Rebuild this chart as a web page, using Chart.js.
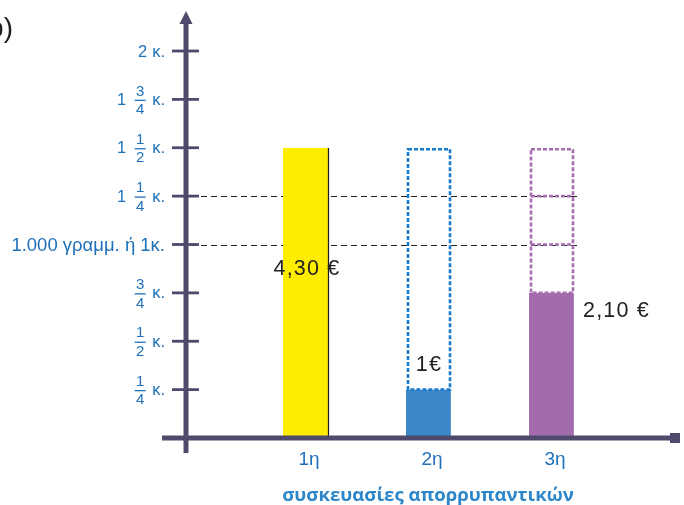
<!DOCTYPE html>
<html>
<head>
<meta charset="utf-8">
<script src="https://cdn.jsdelivr.net/npm/chart.js@4/dist/chart.umd.min.js"></script>
<style>
  html, body { margin: 0; padding: 0; background: #ffffff; }
  #wrap { width: 684px; height: 505px; }
</style>
</head>
<body>
<div id="wrap"><canvas id="c" width="684" height="505"></canvas></div>
<script>
// Detergent packages: how much each one holds and what it costs
const categories = ['1η', '2η', '3η'];
const quantityKg = [1.5, 0.25, 0.75];
const packSizeKg = [1.5, 1.5, 1.5];
const priceLabels = ['4,30 €', '1€', '2,10 €'];
const outlineDividers = [[], [], [1, 1.25]];

// Vertical axis: tick values and their written labels
const tickValues = [0.25, 0.5, 0.75, 1, 1.25, 1.5, 1.75, 2];
const tickLabels = ['1/4 κ.', '1/2 κ.', '3/4 κ.', '1.000 γραμμ. ή 1κ.', '1 1/4 κ.', '1 1/2 κ.', '1 3/4 κ.', '2 κ.'];
const referenceLines = [1, 1.25];

const axisTitle = 'συσκευασίες απορρυπαντικών';
const partLetter = 'b)';

const barColors = ['#ffed00', '#3b87c8', '#a36aac'];
const barEdgeColors = ['#1e1e1e', 'rgba(0,0,0,0)', 'rgba(0,0,0,0)'];
const outlineColors = ['#1e1e1e', '#1a7acb', '#a66db1'];
const AXIS = '#4e4a6c';
const LABEL_BLUE = '#1f70b8';
const TITLE_BLUE = '#2c86c9';
const SANS = '"Liberation Sans", Arial, sans-serif';

const AXIS_X = 186;

const decorPlugin = {
  id: 'decor',
  beforeDatasetsDraw(chart) {
    const ctx = chart.ctx;
    const y = chart.scales.y;
    ctx.save();
    ctx.strokeStyle = '#222222';
    ctx.lineWidth = 1.2;
    ctx.setLineDash([6, 4]);
    referenceLines.forEach(v => {
      const py = Math.round(y.getPixelForValue(v)) + 0.5;
      ctx.beginPath();
      ctx.moveTo(AXIS_X + 5, py);
      ctx.lineTo(580, py);
      ctx.stroke();
    });
    ctx.restore();
  },
  afterDatasetsDraw(chart) {
    const ctx = chart.ctx;
    const y = chart.scales.y;
    const meta = chart.getDatasetMeta(0);
    ctx.save();
    // dashed outline for the part of a package still missing up to the full size
    meta.data.forEach((bar, i) => {
      if (packSizeKg[i] <= quantityKg[i]) return;
      const left = bar.x - bar.width / 2 + 2;
      const right = bar.x + bar.width / 2 - 2;
      const top = y.getPixelForValue(packSizeKg[i]) + 1.5;
      const bottom = y.getPixelForValue(quantityKg[i]);
      ctx.strokeStyle = outlineColors[i];
      ctx.lineWidth = 2.6;
      ctx.setLineDash([4, 2]);
      ctx.strokeRect(left, top, right - left, bottom - top);
      outlineDividers[i].forEach(v => {
        const py = y.getPixelForValue(v);
        ctx.beginPath();
        ctx.moveTo(left, py);
        ctx.lineTo(right, py);
        ctx.stroke();
      });
    });
    ctx.setLineDash([]);

    // price labels
    ctx.fillStyle = '#222222';
    ctx.font = '21.5px ' + SANS;
    ctx.textBaseline = 'middle';
    if ('letterSpacing' in ctx) ctx.letterSpacing = '1.2px';
    meta.data.forEach((bar, i) => {
      const topPx = y.getPixelForValue(quantityKg[i]);
      if (i === 0) {
        ctx.textAlign = 'center';
        ctx.fillText(priceLabels[i], bar.x + 1, y.getPixelForValue(1) + 25);
      } else if (i === 1) {
        ctx.textAlign = 'center';
        ctx.fillText(priceLabels[i], bar.x, topPx - 25);
      } else {
        ctx.textAlign = 'left';
        ctx.fillText(priceLabels[i], bar.x + bar.width / 2 + 8, topPx + 18);
      }
    });
    if ('letterSpacing' in ctx) ctx.letterSpacing = '0px';
    ctx.restore();
  },
  afterDraw(chart) {
    const ctx = chart.ctx;
    const y = chart.scales.y;
    const meta = chart.getDatasetMeta(0);
    const zeroY = y.getPixelForValue(0);
    ctx.save();

    // horizontal axis with square end
    ctx.strokeStyle = AXIS;
    ctx.fillStyle = AXIS;
    ctx.lineWidth = 5;
    ctx.beginPath();
    ctx.moveTo(162, zeroY);
    ctx.lineTo(672, zeroY);
    ctx.stroke();
    ctx.fillRect(670, zeroY - 5, 10, 10);

    // vertical axis with arrow head
    ctx.beginPath();
    ctx.moveTo(AXIS_X, 453);
    ctx.lineTo(AXIS_X, 20);
    ctx.stroke();
    ctx.beginPath();
    ctx.moveTo(AXIS_X, 11);
    ctx.lineTo(AXIS_X - 6.5, 24);
    ctx.lineTo(AXIS_X + 6.5, 24);
    ctx.closePath();
    ctx.fill();

    // tick marks and labels
    tickValues.forEach((v, i) => {
      const py = y.getPixelForValue(v);
      ctx.strokeStyle = AXIS;
      ctx.lineWidth = 2.8;
      ctx.beginPath();
      ctx.moveTo(172, py);
      ctx.lineTo(199, py);
      ctx.stroke();

      const m = tickLabels[i].match(/^(?:(\d+) )?(?:(\d+)\/(\d+) )?(.*)$/);
      const whole = m[1], num = m[2], den = m[3], rest = m[4];
      ctx.fillStyle = LABEL_BLUE;
      ctx.textBaseline = 'middle';
      ctx.textAlign = 'right';
      const right = 165;
      if (!num && !whole) {
        ctx.font = (rest.length > 6 ? '18.5px ' : '16.5px ') + SANS;
        ctx.fillText(rest, right, py + 1);
        return;
      }
      ctx.font = '16.5px ' + SANS;
      ctx.fillText(rest, right, py + 1);
      let cursor = right - ctx.measureText(rest).width;
      if (num) {
        const fc = cursor - 12;
        ctx.font = '15px ' + SANS;
        ctx.textAlign = 'center';
        ctx.fillText(num, fc, py - 8);
        ctx.fillText(den, fc, py + 10.5);
        ctx.strokeStyle = LABEL_BLUE;
        ctx.lineWidth = 1.3;
        ctx.beginPath();
        ctx.moveTo(fc - 5.5, py + 1);
        ctx.lineTo(fc + 5.5, py + 1);
        ctx.stroke();
        cursor = fc - 14;
      } else {
        cursor -= 5;
      }
      if (whole) {
        ctx.font = '16.5px ' + SANS;
        ctx.textAlign = 'right';
        ctx.fillText(whole, cursor, py + 1);
      }
    });

    // category labels
    ctx.fillStyle = LABEL_BLUE;
    ctx.font = '19px ' + SANS;
    ctx.textAlign = 'center';
    ctx.textBaseline = 'alphabetic';
    meta.data.forEach((bar, i) => {
      ctx.fillText(categories[i], bar.x + 3, 465);
    });

    // axis title
    ctx.fillStyle = TITLE_BLUE;
    ctx.font = 'bold 18.6px "Open Sans", sans-serif';
    ctx.fillText(axisTitle, 428, 501);

    // part letter in the corner
    ctx.fillStyle = '#222222';
    ctx.font = '28px ' + SANS;
    ctx.textAlign = 'right';
    ctx.fillText(partLetter, 13, 37);
    ctx.restore();
  }
};

new Chart(document.getElementById('c'), {
  type: 'bar',
  data: {
    labels: categories,
    datasets: [{
      data: quantityKg,
      backgroundColor: barColors,
      borderColor: barEdgeColors,
      borderWidth: { top: 0, left: 0, bottom: 0, right: 1.5 },
      borderSkipped: false,
      barThickness: 46
    }]
  },
  options: {
    responsive: false,
    animation: false,
    devicePixelRatio: 1,
    layout: { padding: { left: 244.5, right: 70.5, top: 12.3, bottom: 67 } },
    scales: {
      x: { type: 'category', display: false, offset: true },
      y: { display: false, min: 0, max: 2.2 }
    },
    plugins: { legend: { display: false }, tooltip: { enabled: false } }
  },
  plugins: [decorPlugin]
});
</script>
</body>
</html>
